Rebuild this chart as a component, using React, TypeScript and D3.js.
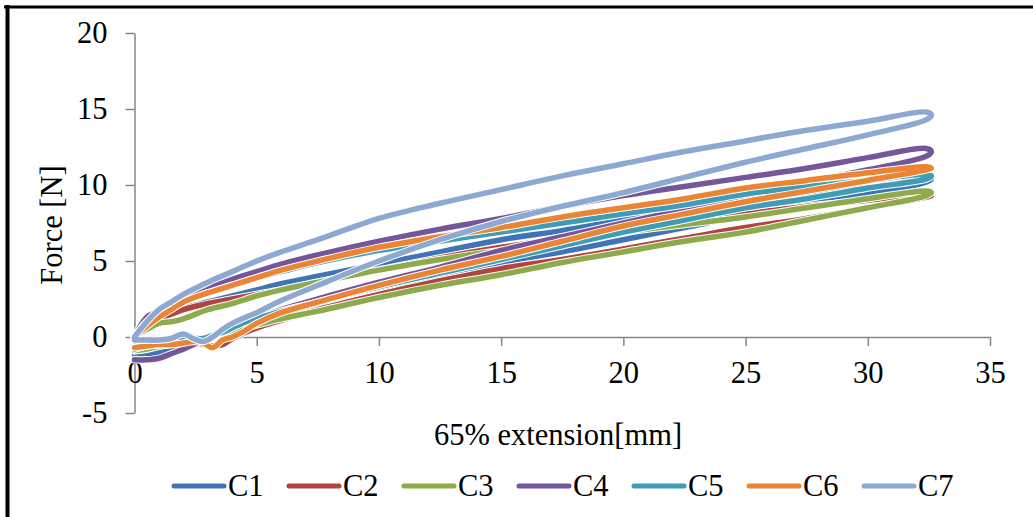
import React, { useEffect, useRef } from "react";
import * as d3 from "d3";

// extension grid for loading (up) and unloading (down) branches
const xUp = [0, 0.5, 1, 1.5, 2, 3, 4, 5, 6, 7.5, 10, 12.5, 15, 17.5, 20, 22.5, 25, 27.5, 30, 32.4, 32.6];
const xDown = [32.4, 30, 27.5, 25, 22.5, 20, 17.5, 15, 12.5, 10, 7.5, 6, 5, 4.4, 4, 3.6, 3.2, 2.8, 2.4, 2, 1.5, 1, 0.5, 0];

const c1Up = [0, 0.9, 1.3, 1.6, 1.9, 2.3, 2.7, 3.1, 3.5, 4.0, 4.8, 5.6, 6.4, 7.0, 7.7, 8.3, 8.9, 9.5, 10.0, 10.5, 10.4];
const c2Up = [0, 0.8, 1.2, 1.5, 1.8, 2.2, 2.5, 2.8, 3.1, 3.6, 4.4, 5.2, 5.9, 6.5, 7.1, 7.6, 8.1, 8.6, 9.0, 9.4, 9.3];
const c3Up = [0, 0.5, 0.9, 1.0, 1.2, 1.8, 2.2, 2.7, 3.1, 3.6, 4.4, 5.1, 5.7, 6.3, 6.9, 7.4, 7.9, 8.5, 9.1, 9.6, 9.5];
const c4Up = [0, 1.3, 1.7, 2.1, 2.5, 3.2, 3.8, 4.3, 4.8, 5.4, 6.3, 7.1, 7.8, 8.6, 9.3, 9.9, 10.5, 11.1, 11.8, 12.4, 12.2];
const c5Up = [0, 1.0, 1.5, 1.9, 2.3, 2.9, 3.4, 3.9, 4.3, 4.9, 5.7, 6.3, 6.9, 7.5, 8.1, 8.7, 9.4, 9.9, 10.3, 10.7, 10.6];
const c6Up = [0, 0.7, 1.3, 1.8, 2.3, 2.9, 3.4, 3.9, 4.4, 5.0, 5.9, 6.6, 7.2, 7.9, 8.5, 9.1, 9.8, 10.3, 10.8, 11.2, 11.1];
const c7Up = [0, 1.0, 1.8, 2.3, 2.8, 3.6, 4.3, 5.0, 5.6, 6.4, 7.8, 8.8, 9.7, 10.6, 11.4, 12.2, 12.9, 13.6, 14.2, 14.8, 14.6];

const c1Down = [10.2, 9.4, 8.7, 8.0, 7.2, 6.4, 5.6, 4.9, 4.0, 3.1, 2.1, 1.5, 1.0, 0.7, 0.5, 0.2, 0.0, -0.2, -0.4, -0.6, -0.8, -1.0, -1.1, -1.2];
const c2Down = [9.2, 8.5, 7.8, 7.2, 6.5, 5.8, 5.1, 4.5, 3.7, 2.8, 1.8, 1.1, 0.6, 0.2, -0.1, -0.5, -0.6, -0.5, -0.4, -0.4, -0.5, -0.6, -0.8, -0.9];
const c3Down = [9.3, 8.5, 7.7, 6.9, 6.3, 5.6, 4.9, 4.1, 3.4, 2.6, 1.7, 1.2, 0.8, 0.5, 0.3, 0.2, 0.0, -0.1, -0.2, -0.3, -0.4, -0.6, -0.8, -0.9];
const c4Down = [11.9, 11.0, 10.2, 9.3, 8.4, 7.5, 6.6, 5.7, 4.6, 3.6, 2.5, 1.8, 1.2, 0.9, 0.6, 0.3, 0.0, -0.3, -0.5, -0.8, -1.1, -1.4, -1.5, -1.5];
const c5Down = [10.4, 9.8, 9.1, 8.5, 7.7, 6.9, 6.0, 5.1, 4.2, 3.3, 2.3, 1.7, 1.2, 0.9, 0.6, 0.3, 0.1, -0.1, -0.1, -0.2, -0.3, -0.5, -0.6, -0.8];
const c6Down = [11.0, 10.3, 9.6, 8.9, 8.1, 7.3, 6.3, 5.3, 4.4, 3.4, 2.3, 1.6, 0.9, 0.3, 0.0, -0.2, -0.7, -0.4, -0.3, -0.4, -0.5, -0.5, -0.6, -0.7];
const c7Down = [14.3, 13.3, 12.4, 11.5, 10.5, 9.5, 8.6, 7.6, 6.4, 5.0, 3.4, 2.4, 1.6, 1.2, 0.9, 0.5, 0.0, -0.3, -0.1, 0.2, -0.1, -0.2, -0.2, -0.2];

const names = ["C1", "C2", "C3", "C4", "C5", "C6", "C7"];
const colors = ["#4174B6", "#B2433F", "#8DAA4C", "#74579A", "#3F9CB7", "#EA8536", "#8DA9D2"];
const ups = [c1Up, c2Up, c3Up, c4Up, c5Up, c6Up, c7Up];
const downs = [c1Down, c2Down, c3Down, c4Down, c5Down, c6Down, c7Down];

const xTicks = [0, 5, 10, 15, 20, 25, 30, 35];
const yTicks = [-5, 0, 5, 10, 15, 20];

const App = () => {
  const ref = useRef<SVGSVGElement>(null);

  useEffect(() => {
    const svg = d3.select(ref.current);
    svg.selectAll("*").remove();

    const font = "'Liberation Serif', 'Times New Roman', serif";
    const fs = 30.5;
    const x = d3.scaleLinear().domain([0, 35]).range([134.5, 990]);
    const y = d3.scaleLinear().domain([-5, 20]).range([413, 33]);

    // outer frame (only top and left visible)
    svg.append("line").attr("x1", 4).attr("x2", 1033).attr("y1", 7).attr("y2", 7)
      .attr("stroke", "#000").attr("stroke-width", 3);
    svg.append("line").attr("x1", 7.5).attr("x2", 7.5).attr("y1", 5).attr("y2", 517)
      .attr("stroke", "#000").attr("stroke-width", 4);

    // y axis
    const yAxisG = svg.append("g").attr("transform", `translate(${x(0)},0)`)
      .call(d3.axisLeft(y).tickValues(yTicks).tickFormat((d) => String(d))
        .tickSize(9).tickPadding(18).tickSizeOuter(0));
    yAxisG.select(".domain").attr("stroke", "#868686").attr("stroke-width", 1.5);
    yAxisG.selectAll(".tick line").attr("stroke", "#868686").attr("stroke-width", 1.5);
    yAxisG.selectAll(".tick text").attr("font-family", font).attr("font-size", fs).attr("fill", "#000");

    // x axis at zero
    const xAxisG = svg.append("g").attr("transform", `translate(0,${y(0)})`)
      .call(d3.axisBottom(x).tickValues(xTicks).tickFormat((d) => String(d))
        .tickSize(9).tickPadding(15).tickSizeOuter(0));
    xAxisG.select(".domain").attr("stroke", "#868686").attr("stroke-width", 1.5);
    xAxisG.selectAll(".tick line").attr("stroke", "#868686").attr("stroke-width", 1.5);
    xAxisG.selectAll(".tick text").attr("font-family", font).attr("font-size", fs).attr("fill", "#000");

    const lineGen = d3.line<[number, number]>()
      .x((d) => x(d[0]))
      .y((d) => y(d[1]))
      .curve(d3.curveCatmullRom.alpha(0.5));

    names.forEach((name, i) => {
      const pts: [number, number][] = [
        ...xUp.map((v, j) => [v, ups[i][j]] as [number, number]),
        ...xDown.map((v, j) => [v, downs[i][j]] as [number, number]),
      ];
      svg.append("path").attr("d", lineGen(pts)).attr("fill", "none")
        .attr("stroke", "#fff").attr("stroke-width", 7.5)
        .attr("stroke-linejoin", "round").attr("stroke-linecap", "round");
      svg.append("path").attr("d", lineGen(pts)).attr("fill", "none")
        .attr("stroke", colors[i]).attr("stroke-width", 5.5)
        .attr("stroke-linejoin", "round").attr("stroke-linecap", "round");
    });

    // axis titles
    svg.append("text").attr("transform", "translate(62,225) rotate(-90)")
      .attr("text-anchor", "middle").attr("font-family", font).attr("font-size", fs)
      .text("Force [N]");
    svg.append("text").attr("x", 558).attr("y", 445)
      .attr("text-anchor", "middle").attr("font-family", font).attr("font-size", fs)
      .text("65% extension[mm]");

    // legend
    const legend = svg.append("g").attr("transform", "translate(172,486)");
    names.forEach((name, i) => {
      const g = legend.append("g").attr("transform", `translate(${i * 115},0)`);
      g.append("line").attr("x1", 2).attr("x2", 52).attr("y1", 0).attr("y2", 0)
        .attr("stroke", colors[i]).attr("stroke-width", 5).attr("stroke-linecap", "round");
      g.append("text").attr("x", 56).attr("y", 10).attr("font-family", font)
        .attr("font-size", fs).text(name);
    });
  }, []);

  return (
    <svg ref={ref} width={1033} height={517}
      style={{ position: "absolute", left: 0, top: 0, background: "#fff" }} />
  );
};

export default App;
